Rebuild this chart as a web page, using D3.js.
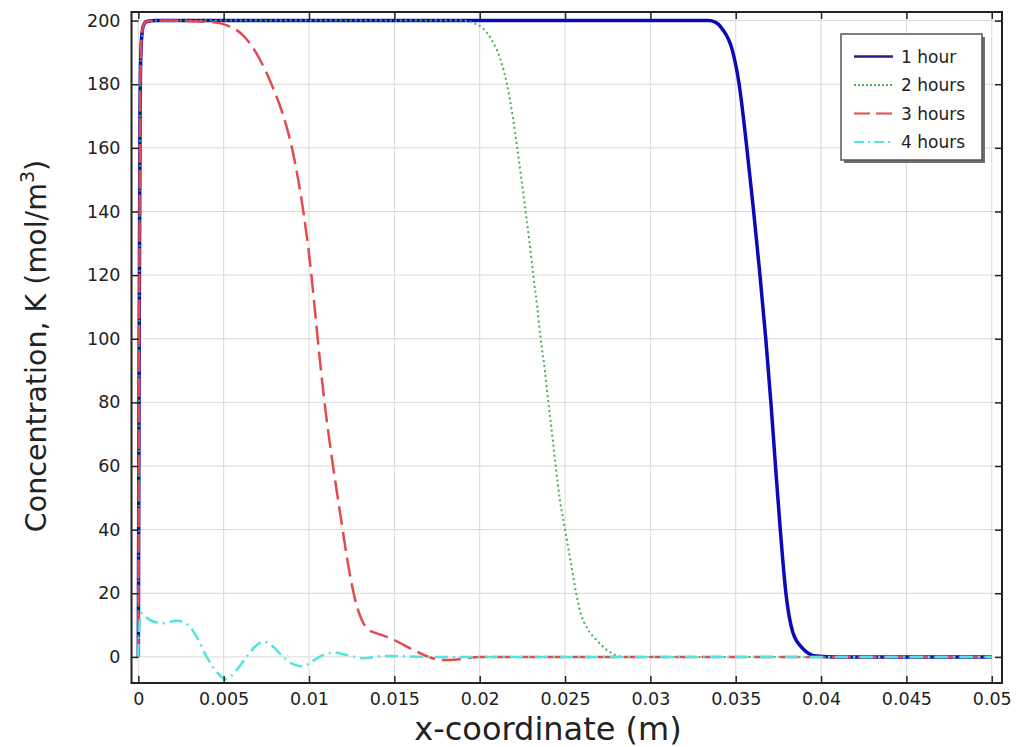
<!DOCTYPE html>
<meta charset="utf-8">
<head>
  <title>Concentration profiles</title>
  <style>
    body { margin: 0; background: #fff; }
    text { font-family: "DejaVu Sans", sans-serif; fill: #222; }
  </style>
</head>
<body>
<script src="https://d3js.org/d3.v7.min.js"></script>
<script>
var WIDTH = 1017,
    HEIGHT = 747;

// plot frame in pixels
var LEFT = 131.5, RIGHT = 1002, TOP = 12, BOTTOM = 683;

var xTicks = [0, 0.005, 0.01, 0.015, 0.02, 0.025, 0.03, 0.035, 0.04, 0.045, 0.05];
var xTickLabels = ["0", "0.005", "0.01", "0.015", "0.02", "0.025", "0.03", "0.035", "0.04", "0.045", "0.05"];
var yTicks = [0, 20, 40, 60, 80, 100, 120, 140, 160, 180, 200];

var seriesNames = ["1 hour", "2 hours", "3 hours", "4 hours"];

var hour1X = [0, 0.00005, 0.0001, 0.00015, 0.0002, 0.0003, 0.0005, 0.001, 0.0334, 0.0338, 0.03422, 0.0348,
  0.0352, 0.03565, 0.03605, 0.03642, 0.03676, 0.03706, 0.03733, 0.03761, 0.03794, 0.03833, 0.03892, 0.03971, 0.041, 0.05];
var hour1Y = [0, 100, 170, 190, 195, 198.5, 199.7, 200, 200, 199.5, 197.3, 190.7,
  180, 160, 140, 120, 100, 80, 60, 40, 20, 8, 2.7, 0.3, 0, 0];

var hour2X = [0, 0.00005, 0.0001, 0.00015, 0.0002, 0.0003, 0.0005, 0.001, 0.0189, 0.0196, 0.0202, 0.0207,
  0.0212, 0.0216, 0.02193, 0.0222, 0.02245, 0.02269, 0.02292, 0.02314, 0.02337, 0.02357, 0.02382, 0.02402,
  0.02425, 0.02445, 0.02469, 0.025, 0.02533, 0.02565, 0.0259, 0.0263, 0.0269, 0.0275, 0.028, 0.0285, 0.05];
var hour2Y = [0, 100, 170, 190, 195, 198.5, 199.7, 200, 200, 199.3, 197.5, 194,
  188, 180, 170, 160, 150, 140, 130.3, 120, 110, 100, 90, 80,
  69.7, 60, 49.7, 40, 30, 20, 14, 9, 5, 2, 0.5, 0, 0];

var hour3X = [0, 0.00005, 0.0001, 0.00015, 0.0002, 0.0003, 0.0005, 0.001, 0.0042, 0.0052, 0.0062, 0.0071,
  0.0078, 0.0085, 0.009, 0.0094, 0.0098, 0.0101, 0.0104, 0.0107, 0.011, 0.0113, 0.0116, 0.0119,
  0.0122, 0.0125, 0.0128, 0.0131, 0.0135, 0.0142, 0.015, 0.016, 0.017, 0.0178, 0.0185, 0.02, 0.05];
var hour3Y = [0, 100, 170, 190, 195, 198.5, 199.7, 200, 199.6, 198.5, 195, 188,
  180, 170, 160, 149, 135, 122, 106, 90, 76, 64, 53, 42.5,
  32, 23, 16, 11.5, 8.5, 7, 5.3, 2.5, 0, -1, -0.9, 0, 0];

var hour4X = [0, 0.00002, 0.00019, 0.00067, 0.00146, 0.00224, 0.00292, 0.00341, 0.004, 0.00458, 0.00511,
  0.00576, 0.00634, 0.00683, 0.00732, 0.0079, 0.00849, 0.00907, 0.00966, 0.01015, 0.01083, 0.01142,
  0.0122, 0.01318, 0.0145, 0.0155, 0.017, 0.05];
var hour4Y = [0, 6, 13.7, 11.6, 10.6, 11.4, 10, 6.4, 0, -4.6, -7,
  -4.1, 0, 3.2, 4.8, 3.2, 0, -2.3, -3, -1.5, 0.6, 1.4,
  0.6, -0.4, 0.3, 0.2, 0, 0];

var colors = ["#0a0ab6", "#45b05a", "#e24a4f", "#4fe6e0"];
var widths = [3.5, 2, 2.5, 2.5];
var dashes = [null, "2,3", "19,7", "13,5,2,5"];

var svg = d3.select("body").append("svg")
    .attr("width", WIDTH)
    .attr("height", HEIGHT);

var x = d3.scaleLinear().domain([-0.0004, 0.0506]).range([LEFT, RIGHT]);
var y = d3.scaleLinear().domain([-8.2, 202.7]).range([BOTTOM, TOP]);

// grid
svg.append("g").selectAll("line").data(xTicks).enter().append("line")
    .attr("x1", function(d) { return x(d); })
    .attr("x2", function(d) { return x(d); })
    .attr("y1", TOP).attr("y2", BOTTOM)
    .attr("stroke", "#d9d9d9").attr("stroke-width", 1);

svg.append("g").selectAll("line").data(yTicks).enter().append("line")
    .attr("y1", function(d) { return y(d); })
    .attr("y2", function(d) { return y(d); })
    .attr("x1", LEFT).attr("x2", RIGHT)
    .attr("stroke", "#d9d9d9").attr("stroke-width", 1);

// curves
var line = d3.line()
    .x(function(d) { return x(d[0]); })
    .y(function(d) { return y(d[1]); })
    .curve(d3.curveMonotoneX);

var allX = [hour1X, hour2X, hour3X, hour4X],
    allY = [hour1Y, hour2Y, hour3Y, hour4Y];

svg.append("clipPath").attr("id", "plotclip")
  .append("rect")
    .attr("x", LEFT).attr("y", TOP)
    .attr("width", RIGHT - LEFT).attr("height", BOTTOM - TOP);

for (var i = 0; i < 4; i++) {
  var pts = allX[i].map(function(v, j) { return [v, allY[i][j]]; });
  svg.append("path")
      .attr("clip-path", "url(#plotclip)")
      .attr("d", line(pts))
      .attr("fill", "none")
      .attr("stroke", colors[i])
      .attr("stroke-width", widths[i])
      .attr("stroke-dasharray", dashes[i])
      .attr("stroke-linejoin", "round");
}

// axes with inward ticks on all four sides
var TICK = 7;
var bottomAxis = d3.axisBottom(x).tickValues(xTicks)
    .tickFormat(function(d, i) { return xTickLabels[i]; })
    .tickSizeInner(-TICK).tickSizeOuter(0).tickPadding(10);
var topAxis = d3.axisTop(x).tickValues(xTicks).tickFormat("")
    .tickSizeInner(-TICK).tickSizeOuter(0);
var leftAxis = d3.axisLeft(y).tickValues(yTicks)
    .tickSizeInner(-TICK).tickSizeOuter(0).tickPadding(11);
var rightAxis = d3.axisRight(y).tickValues(yTicks).tickFormat("")
    .tickSizeInner(-TICK).tickSizeOuter(0);

function styleAxis(g) {
  g.select(".domain").remove();
  g.selectAll("line").attr("stroke", "#222").attr("stroke-width", 1.5);
  g.selectAll("text").attr("font-size", 17.5).attr("fill", "#222")
    .attr("font-family", "DejaVu Sans");
}

svg.append("g").attr("transform", "translate(0," + BOTTOM + ")").call(bottomAxis).call(styleAxis);
svg.append("g").attr("transform", "translate(0," + TOP + ")").call(topAxis).call(styleAxis);
svg.append("g").attr("transform", "translate(" + LEFT + ",0)").call(leftAxis).call(styleAxis);
svg.append("g").attr("transform", "translate(" + RIGHT + ",0)").call(rightAxis).call(styleAxis);

svg.append("rect")
    .attr("x", LEFT).attr("y", TOP)
    .attr("width", RIGHT - LEFT).attr("height", BOTTOM - TOP)
    .attr("fill", "none").attr("stroke", "#222").attr("stroke-width", 2);

// axis titles
svg.append("text")
    .attr("x", 548)
    .attr("y", 740)
    .attr("text-anchor", "middle")
    .attr("font-size", 32)
    .text("x-coordinate (m)");

var yt = svg.append("text")
    .attr("transform", "translate(46,346) rotate(-90)")
    .attr("text-anchor", "middle")
    .attr("font-size", 28.5);
yt.append("tspan").text("Concentration, K (mol/m");
yt.append("tspan").attr("font-size", 19).attr("dy", -12).text("3");
yt.append("tspan").attr("dy", 12).text(")");

// legend
var LX = 841, LY = 34, LW = 141, LH = 126;
svg.append("rect")
    .attr("x", LX + 3).attr("y", LY + 3)
    .attr("width", LW).attr("height", LH)
    .attr("fill", "#6e6e6e");
svg.append("rect")
    .attr("x", LX).attr("y", LY)
    .attr("width", LW).attr("height", LH)
    .attr("fill", "#fff").attr("stroke", "#555").attr("stroke-width", 1.5);

var legend = svg.append("g").selectAll("g").data(seriesNames).enter().append("g")
    .attr("transform", function(d, i) { return "translate(" + LX + "," + (LY + 22.5 + i * 28.5) + ")"; });

legend.append("line")
    .attr("x1", 13).attr("x2", 52)
    .attr("stroke", function(d, i) { return i === 0 ? "#22228a" : colors[i]; })
    .attr("stroke-width", function(d, i) { return i === 0 ? 2.5 : 2; })
    .attr("stroke-dasharray", function(d, i) { return i === 1 ? "2,2" : i === 2 ? "16,6" : i === 3 ? "10,4,2,4" : null; });

legend.append("text")
    .attr("x", 60).attr("y", 6)
    .attr("font-size", 17)
    .text(function(d) { return d; });
</script>
</body>
